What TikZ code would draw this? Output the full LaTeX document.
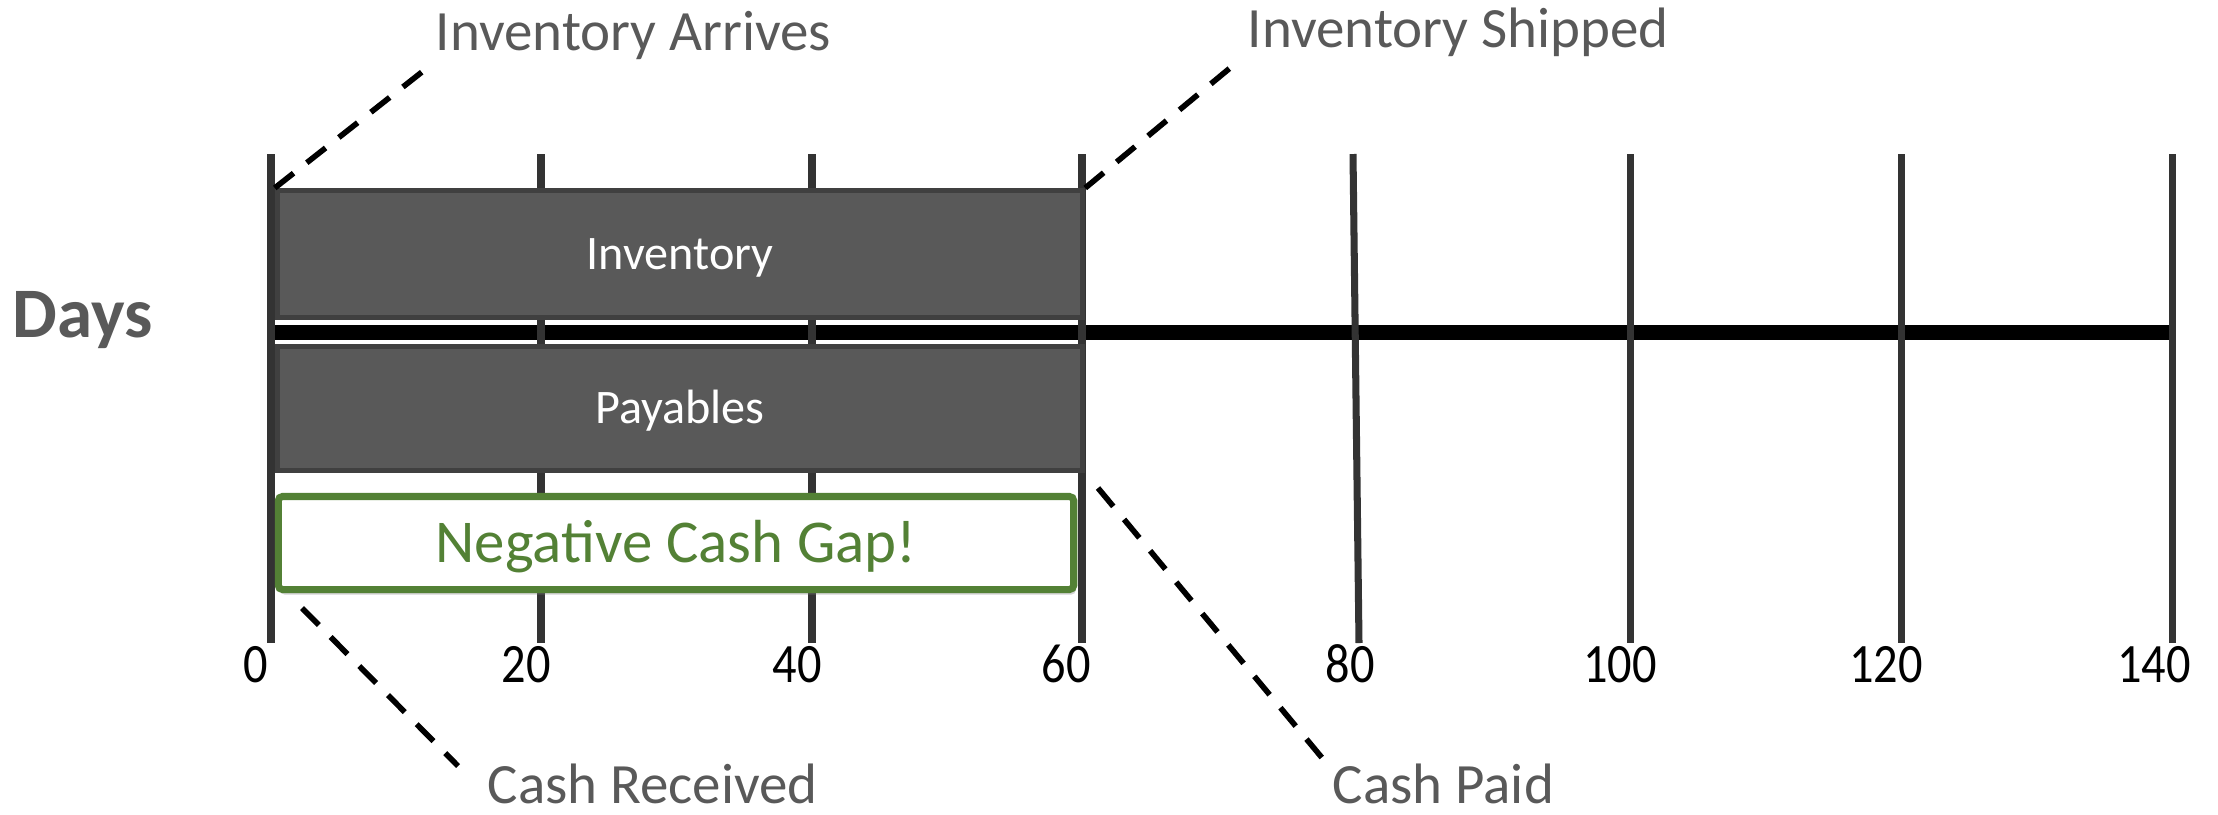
\documentclass[tikz,border=0pt]{standalone}
\usepackage{fontspec}
\setmainfont{Carlito}
\newfontfamily\narrowdigits{Carlito}[FakeStretch=0.87]
\usetikzlibrary{shadows}

\definecolor{labelgray}{HTML}{595959}
\definecolor{boxfill}{HTML}{595959}
\definecolor{boxedge}{HTML}{404040}
\definecolor{tickgray}{HTML}{333333}
\definecolor{gapgreen}{HTML}{538135}

\begin{document}
\begin{tikzpicture}[x=0.01cm,y=-0.01cm,
    daytick/.style={tickgray,line width=2pt},
    daynum/.style={anchor=base,inner sep=0pt,font=\narrowdigits\fontsize{15.8}{19}\selectfont},
    callout/.style={anchor=base west,inner sep=0pt,text depth=0pt,labelgray,
        font=\fontsize{16.2}{20}\selectfont},
    barbox/.style={rectangle,draw=boxedge,fill=boxfill,line width=1.42pt,text=white,
        minimum width=8.05cm,inner sep=0pt,text height=8.7pt,text depth=0pt,
        font=\fontsize{13.7}{16}\selectfont},
    gapbox/.style={rectangle,rounded corners=1.2pt,draw=gapgreen,fill=white,line width=2pt,
        text=gapgreen,minimum width=7.95cm,minimum height=0.93cm,inner sep=0pt,
        text height=10.9pt,text depth=0pt,font=\fontsize{17.3}{21}\selectfont,
        drop shadow={shadow xshift=0.02cm,shadow yshift=-0.05cm,opacity=0.35}},
    leader/.style={line width=1.6pt,dash pattern=on 6.8pt off 4.8pt}]
    \useasboundingbox (0,0) rectangle (2218,814);

    % axis and ticks
    \draw[line width=4.27pt] (271,332.5) -- (2169,332.5);
    \draw[daytick] (271,154) -- (271,643);
    \draw[daytick] (541,154) -- (541,643);
    \draw[daytick] (812,154) -- (812,643);
    \draw[daytick] (1082,154) -- (1082,643);
    \draw[daytick] (1353,154) -- (1359,643);
    \draw[daytick] (1630,154) -- (1630,643);
    \draw[daytick] (1901,154) -- (1901,643);
    \draw[daytick] (2172,154) -- (2172,643);

    % tick numbers
    \node (n0) at (256,682) [daynum] {0};
    \node (n20) at (526,682) [daynum] {20};
    \node (n40) at (797,682) [daynum] {40};
    \node (n60) at (1066,682) [daynum] {60};
    \node (n80) at (1350,682) [daynum] {80};
    \node (n100) at (1620,682) [daynum] {100};
    \node (n120) at (1886,682) [daynum] {120};
    \node (n140) at (2154,682) [daynum] {140};

    % boxes
    \node (days) at (12,337) [anchor=base west,inner sep=0pt,labelgray,
        font=\fontsize{20.2}{24}\selectfont\bfseries] {Days};
    \node (inv) at (680,254) [barbox,minimum height=1.27cm] {Inventory};
    \node (pay) at (680,408.5) [barbox,minimum height=1.24cm] {Payables};
    \node (gap) at (676,543) [gapbox] {Negative Cash Gap!};

    % event labels
    \node (arrives) at (435,50) [callout] {Inventory Arrives};
    \node (shipped) at (1247,47) [callout] {Inventory Shipped};
    \node (received) at (487,803) [callout] {Cash Received};
    \node (paid) at (1332,803) [callout] {Cash Paid};

    % dashed leaders
    \coordinate (arrivesEnd) at (427,68);
    \coordinate (shippedEnd) at (1230,68);
    \coordinate (receivedStart) at (302,608);
    \coordinate (receivedEnd) at (458,766);
    \coordinate (paidStart) at (1098,488);
    \coordinate (paidEnd) at (1328,765);
    \draw[leader] (inv.north west) -- (arrivesEnd);
    \draw[leader] (inv.north east) -- (shippedEnd);
    \draw[leader] (receivedStart) -- (receivedEnd);
    \draw[leader] (paidStart) -- (paidEnd);
\end{tikzpicture}
\end{document}
